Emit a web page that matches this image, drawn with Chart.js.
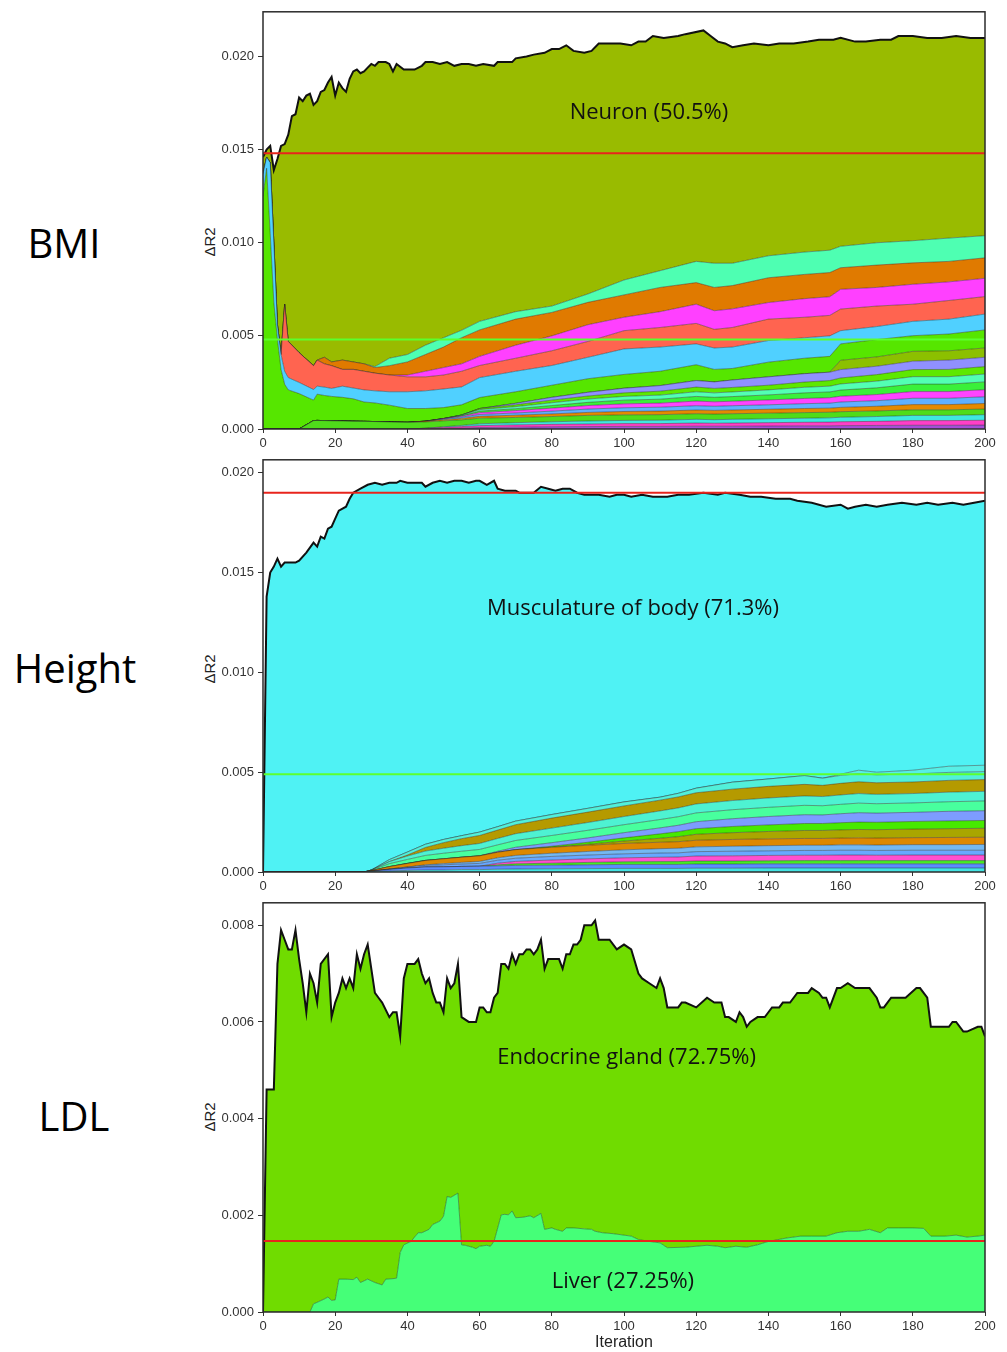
<!DOCTYPE html>
<html>
<head>
<meta charset="utf-8">
<script src="https://cdn.jsdelivr.net/npm/chart.js@4.4.1/dist/chart.umd.min.js"></script>
<style>
  html, body { margin: 0; padding: 0; background: #fff; }
  body { position: relative; width: 1007px; height: 1352px; overflow: hidden; }
  .trait { position: absolute; width: 150px; height: 40px; line-height: 40px; text-align: center;
           font-family: 'Open Sans', 'Noto Sans', sans-serif; font-size: 40px; color: #000; }
  .ytitle { position: absolute; left: 180px; width: 60px; height: 20px; line-height: 20px; text-align: center;
            font-family: 'Liberation Sans', Arial, sans-serif; font-size: 15px; color: #222;
            transform: rotate(-90deg); }
  canvas { position: absolute; left: 197px; }
</style>
</head>
<body>
<div class="trait" style="left:-11px; top:223px;">BMI</div>
<div class="trait" style="left:0px; top:648px;">Height</div>
<div class="trait" style="left:-1px; top:1096px;">LDL</div>
<div class="ytitle" style="top:232px;">ΔR2</div>
<div class="ytitle" style="top:659px;">ΔR2</div>
<div class="ytitle" style="top:1107px;">ΔR2</div>
<canvas id="bmi" width="810" height="448" style="top:0px;"></canvas>
<canvas id="height" width="810" height="443" style="top:448px;"></canvas>
<canvas id="ldl" width="810" height="461" style="top:891px;"></canvas>
<script>
// ---------------- BMI: per-tissue ΔR2 contributions (stacked, bottom to top) ----------------
const bmiGrid = [0,1,2,3,4,5,6,7,10,14,15,17,19,22,25,28,31,35,40,45,50,55,60,70,80,90,100,110,120,125,130,140,150,157,160,170,180,190,200];
const bmiPurple   = [0,0,0,0,0,0,0,0,0,0,0,0,0,0,0,0,0,0,0, 0,.00003,.00005,.00008,.0001,.00012,.00013,.00014,.00014,.00015,.00015,.00015,.00016,.00017,.00017,.00018,.00019,.0002,.0002,.00021];
const bmiPink     = [0,0,0,0,0,0,0,0,0,0,0,0,0,0,0,0,0,0,0, .00004,.00006,.00008,.0001,.00012,.00013,.00014,.00015,.00015,.00017,.00016,.00017,.00018,.00019,.0002,.00021,.00022,.00025,.00025,.00026];
const bmiTeal     = [0,0,0,0,0,0,0,0,0,0,0,0,0,0,0,0,0,0,0, 0,.00003,.00006,.0001,.00012,.00014,.00016,.00017,.00018,.0002,.00019,.0002,.00021,.00022,.00023,.00024,.00026,.00028,.00028,.0003];
const bmiDeepGreen= [0,0,0,0,0,0,0,0,0, .00045,.00046,.00045,.00044,.00043,.00042,.00041,.0004,.00038,.00036, .00034,.00032,.0003,.0003,.00028,.00028,.0003,.0003,.0003,.0003,.0003,.0003,.0003,.0003,.0003,.0003,.0003,.0003,.0003,.0003];
const bmiAmber    = [0,0,0,0,0,0,0,0,0,0,0,0,0,0,0,0,0,0,0, .00004,.00006,.00008,.0001,.00012,.00014,.00016,.00018,.00019,.0002,.0002,.0002,.00021,.00022,.00022,.00023,.00025,.00028,.00028,.0003];
const bmiSky      = [0,0,0,0,0,0,0,0,0,0,0,0,0,0,0,0,0,0,0, 0,.00004,.00007,.0001,.00012,.00015,.00018,.0002,.00021,.00023,.00022,.00023,.00024,.00026,.00027,.00029,.0003,.00034,.00034,.00036];
const bmiFuchsia  = [0,0,0,0,0,0,0,0,0,0,0,0,0,0,0,0,0,0,0, 0,.00002,.00005,.0001,.00013,.00016,.00019,.00021,.00022,.00025,.00024,.00024,.00026,.00028,.00029,.00031,.00033,.00036,.00036,.00038];
const bmiLime     = [0,0,0,0,0,0,0,0,0,0,0,0,0,0,0,0,0,0,0, 0,0,.00003,.00008,.0001,.00014,.00017,.0002,.00021,.00025,.00024,.00025,.00027,.0003,.00031,.00033,.00036,.0004,.0004,.00042];
const bmiMint     = [0,0,0,0,0,0,0,0,0,0,0,0,0,0,0,0,0,0,0, 0,0,.00003,.00008,.00011,.00015,.00018,.0002,.00022,.00025,.00024,.00025,.00027,.0003,.00031,.00033,.00036,.0004,.0004,.00042];
const bmiSpring   = [0,0,0,0,0,0,0,0,0,0,0,0,0,0,0,0,0,0,0, 0,0,0,.00006,.0001,.00014,.00016,.00019,.00021,.00025,.00024,.00024,.00025,.00028,.0003,.00032,.00035,.00038,.00039,.0004];
const bmiLavender = [0,0,0,0,0,0,0,0,0,0,0,0,0,0,0,0,0,0,0, 0,0,0,0,.00008,.00015,.0002,.00025,.0003,.00035,.00035,.0004,.00045,.00045,.00045,.00045,.00045,.00045,.0005,.0005];
const bmiOlive    = [0,0,0,0,0,0,0,0,0,0,0,0,0,0,0,0,0,0,0,0,0,0,0,0,0,0,0,0,0,0,0,0,0,0, .0005,.0005,.00053,.0005,.0005];
const bmiGreen    = [.0125,.014,.0105,.0068,.0048,.0032,.0024,.0021,.0019,.0011,.00141,.00135,.00131,.00127,.0012,.00104,.001,.0009,.00074,.00068,.00059,.00055,.00059,.00062,.00065,.00073,.00074,.00077,.00085,.00067,.00062,.00079,.00083,.00085,.00088,.00093,.00084,.0009,.00097];
const bmiBlue     = [.0012,.0006,.0038,.0032,.0008,.0008,.0007,.00066,.0006,.00057,.00043,.00045,.00043,.0006,.00058,.00065,.00065,.00072,.0009,.00095,.001,.00096,.00107,.0011,.00106,.00115,.00137,.0013,.00112,.00115,.00115,.00116,.0011,.0011,.00071,.0007,.00077,.0008,.00085];
const bmiSalmon   = [0,0,0,0,0,0,.0036,.00194,.0016,.00128,.0014,.00125,.00122,.0009,.001,.001,.00095,.0009,.0008,.00075,.00075,.00084,.00065,.0007,.00079,.00085,.00098,.00105,.0011,.001,.00105,.00115,.0011,.0011,.00116,.0011,.00092,.001,.00094];
const bmiMagenta  = [0,0,0,0,0,0,0,0,0,0,0,0,0,0,0,0,0,0, .0001,.0003,.0004,.0004,.00049,.0007,.0008,.0009,.00072,.00085,.00103,.001,.001,.00089,.001,.001,.00106,.001,.00107,.001,.00098];
const bmiOrange   = [0,0,0,0,0,0,0,0,0,0,0, .00035,.0002,.0005,.0004,.0004,.0003,.0005,.0007,.0009,.0011,.0014,.00142,.0014,.00126,.0012,.0012,.0013,.00116,.00125,.00125,.00133,.0013,.0013,.00116,.0012,.00115,.0011,.0011];
const bmiAqua     = [0,0,0,0,0,0,0,0,0,0,0,0,0,0,0,0, .00005,.0004,.0004,.0005,.0005,.0004,.00046,.0004,.00034,.00045,.0008,.0009,.00114,.0013,.0012,.00118,.0012,.0012,.00115,.0012,.00119,.00125,.00119];
// total ΔR2 (black outline); the band above the stack is Neuron
const bmiTotalIter  = [0,1,2,3,4,5,6,7,8,9,10,11,12,13,14,15,16,17,18,19,20,21,22,23,24,25,26,27,28,29,30,31,32,
  34,35,36,37,39,42,44,45,47,49,51,53,55,57,59,61,64,65,69,70,73,75,78,80,82,84,86,89,91,93,96,99,102,104,106,
  108,111,115,117,122,124,126,128,130,133,136,140,143,147,151,154,158,160,164,167,171,174,176,180,184,188,192,196,200];
const bmiTotalValue = [.0146,.015,.0152,.0139,.0145,.0152,.0153,.0158,.0168,.0169,.0178,.0176,.0179,.018,.0174,.0176,.0181,.0182,.0186,.0189,.0179,.0186,.0183,.0181,.0188,.0192,.0193,.0191,.0192,.0194,.0196,.0195,.0197,
  .0197,.0196,.0192,.0196,.0193,.0193,.0195,.0197,.0197,.0196,.0197,.0195,.0196,.0196,.0195,.0196,.0195,.0197,.0197,.0199,.02,.0201,.0202,.0204,.0204,.0206,.0203,.0202,.0203,.0207,.0207,.0207,.0206,.0208,.0208,
  .0211,.021,.0211,.0212,.0214,.0211,.0208,.0207,.0205,.0206,.0207,.0206,.0207,.0207,.0208,.0209,.0209,.021,.0208,.0208,.0209,.0209,.0211,.0211,.021,.021,.0211,.021,.021];
const bmiThresholds = [0.0148, 0.0048];

// ---------------- Height ----------------
const heightGrid = [0,28,30,35,40,45,50,55,60,65,70,80,90,100,110,115,120,130,140,150,155,160,165,170,180,190,200];
const hAqua      = [0,0,.00002,.00005,.00008,.0001,.0001,.00012,.00012,.00014,.00015,.00016,.00017,.00018,.00018,.00018,.00019,.00019,.0002,.0002,.0002,.0002,.0002,.0002,.0002,.0002,.0002];
const hBlue      = [0,0,.00002,.00008,.00012,.00015,.00016,.00016,.00017,.00017,.00018,.00018,.00019,.0002,.0002,.0002,.00021,.00021,.00021,.00021,.00021,.00021,.00021,.00021,.00021,.00021,.00021];
const hGreen     = [0,0,0,0,0,0,0,0,0,.00005,.00008,.0001,.00012,.00013,.00014,.00014,.00015,.00015,.00015,.00016,.00016,.00016,.00016,.00016,.00016,.00016,.00016];
const hMagenta   = [0,0,0,0,0,0,0,0,0,.00008,.00012,.00016,.00018,.0002,.00022,.00023,.00025,.00026,.00027,.00027,.00027,.00028,.00028,.00027,.00028,.00028,.00028];
const hSky       = [0,0,0,.00002,.00005,.00008,.0001,.00012,.00014,.00015,.00016,.00018,.00019,.0002,.00021,.00021,.00022,.00023,.00023,.00024,.00024,.00024,.00024,.00024,.00024,.00024,.00024];
const hSteel     = [0,0,0,0,0,.00003,.00006,.00008,.0001,.00012,.00014,.00016,.00018,.0002,.00022,.00023,.00024,.00025,.00026,.00026,.00026,.00027,.00027,.00027,.00028,.00028,.00029];
const hOrange    = [0,0,.00003,.00012,.00018,.00022,.00024,.00026,.00028,.00028,.00029,.0003,.00031,.00032,.00032,.00033,.00033,.00034,.00034,.00034,.00034,.00034,.00035,.00035,.00035,.00036,.00036];
const hOlive     = [0,0,0,0,0,0,0,0,0,0,0,0,.00005,.00012,.0002,.00025,.0003,.00034,.00037,.0004,.0004,.00041,.00042,.00042,.00043,.00044,.00045];
const hLime      = [0,0,0,0,0,0,0,0,0,0,0,.00005,.0001,.00016,.00022,.00025,.00028,.00031,.00033,.00035,.00035,.00036,.00037,.00037,.00038,.00039,.00039];
const hPeriwinkle= [0,0,0,0,0,0,0,0,0,.00005,.00012,.00018,.00022,.00026,.0003,.00032,.00035,.00039,.00042,.00044,.00043,.00045,.00047,.00046,.00046,.00048,.00049];
const hMint      = [0,0,.00003,.00015,.0002,.00025,.00028,.0003,.00032,.00032,.00034,.00036,.00038,.0004,.00042,.00043,.00044,.00045,.00046,.00047,.00046,.00047,.00048,.00047,.00047,.00048,.00049];
const hTurquoise = [0,0,0,.0001,.00017,.00022,.00025,.00028,.0003,.00032,.00034,.00037,.00039,.00041,.00043,.00044,.00045,.00046,.00047,.00047,.00046,.00047,.00048,.00047,.00047,.00048,.00048];
const hGold      = [0,0,0,0,.00005,.00018,.00028,.00035,.0004,.00042,.00045,.0005,.00052,.00053,.00054,.00055,.00056,.00057,.00058,.00058,.00056,.00058,.00059,.00058,.00058,.00059,.00059];
const hPaleAqua  = [0,0,0,.0001,.00015,.00016,.00016,.00015,.00017,.00017,.00018,.00018,.00019,.0002,.00015,.00018,.00023,.00035,.00037,.00044,.00036,.0004,.0004,.0004,.0004,.0004,.0004];
const hTopAqua   = [0,0,0,0,0,0,0,0,0,0,0,0,0,0,0,0,0,0,0,0,0,.00006,.00018,.00013,.00019,.00031,.00032];
const heightTotalIter  = [0,1,2,3,4,5,6,7,9,10,12,14,15,16,17,18,19,20,21,23,24,25,27,29,31,33,35,37,38,40,44,45,47,49,51,53,55,57,59,60,
  62,64,65,67,70,71,73,75,77,79,81,83,85,87,89,91,93,96,98,100,102,105,108,112,115,118,122,126,128,132,135,138,142,146,148,
  152,156,160,162,164,167,170,173,177,181,184,187,191,194,197,200];
const heightTotalValue = [0,.0138,.015,.0153,.0157,.0153,.0155,.0155,.0155,.0156,.016,.0165,.0163,.0168,.0167,.0172,.0173,.0177,.0181,.0183,
  .0187,.019,.0192,.0194,.0195,.0194,.0195,.0195,.0196,.0195,.0195,.0193,.0195,.0196,.0195,.0196,.0196,.0195,.0196,.0196,
  .0194,.0196,.0192,.0191,.0191,.019,.019,.019,.0193,.0192,.0191,.0192,.0192,.019,.0189,.0189,.0189,.0188,.0189,.0189,
  .0188,.0189,.0188,.0188,.0189,.0189,.019,.0189,.019,.0189,.0188,.0188,.0187,.0187,.0186,
  .0185,.0183,.0184,.0182,.0183,.0184,.0183,.0184,.0185,.0184,.0185,.0184,.0185,.0184,.0185,.0186];
const heightThresholds = [0.0190, 0.0049];

// ---------------- LDL ----------------
const ldlTotalIter = [0,1,3,4,5,6,7,8,9,10, 11,12,13,14,15,16,18,19,20,21, 22,23,24,25,26,27,28,29,31,32, 33,35,36,37,38,39,40,42,43,44,
  45,46,47,48,49,50,51,52,53,54, 55,57,59,60,61,62,63,64,65,66, 67,68,69,70,71,72,73,74,75,76, 77,78,79,81,82,83,84,85,86,87,
  88,89,91,92,93,96,98,100,102,104, 105,107,109,110,111,112,115,116,117,120, 123,125,127,128,129,131,132,133,134,135,
  137,139,140,141,143,144,146,148,151,152, 154,155,156,157,159,160,162,164,166,168, 170,171,172,174,176,178,181,182,184,185,
  188,190,191,192,194,195,198,199,200];
const ldlTotalValue = [0,.0046,.0046,.0072,.0079,.0077,.0075,.0075,.0079,.0073, .0068,.0062,.007,.0068,.0064,.0072,.0074,.0061,.0064,.0066,
  .0069,.0067,.0069,.0067,.0074,.0071,.0074,.0076,.0066,.0065, .0064,.0061,.0062,.0062,.0057,.0069,.0072,.0072,.0073,.007,
  .0068,.0069,.0066,.0064,.0064,.0062,.0069,.0067,.0068,.0072, .0061,.006,.006,.0063,.0063,.0062,.0062,.0065,.0066,.0072,
  .0072,.0071,.0074,.0072,.0074,.0074,.0075,.0075,.0074,.0075, .0077,.0071,.0073,.0073,.0073,.0071,.0074,.0074,.0076,.0076,
  .0077,.008,.008,.0081,.0077,.0077,.0075,.0076,.0075,.007, .0069,.0068,.0067,.0069,.0067,.0063,.0063,.0064,.0064,.0063,
  .0065,.0064,.0064,.0061,.0061,.006,.0062,.0061,.0059,.006, .0061,.0061,.0062,.0063,.0063,.0064,.0064,.0066,.0066,.0067,
  .0066,.0065,.0065,.0063,.0067,.0067,.0068,.0067,.0067,.0067, .0065,.0063,.0063,.0065,.0065,.0065,.0067,.0067,.0065,.0059,
  .0059,.0059,.006,.006,.0058,.0058,.0059,.0059,.0057];
const ldlLiverIter = [0,13,14,15,17,18,19,20,21,23, 25,26,27,29,31,33,34,36,37,38, 39,41,43,44,46,47,49,50,51,52, 54,55,56,58,59,60,62,63,64,66,
  67,68,69,70,72,74,75,77,78,80, 81,83,84,86,89,91,92,94,97,102, 104,107,110,112,117,123,126,128,131,134,
  137,140,145,149,152,156,159,162,165,168, 171,173,176,180,183,185,189,192,195,198, 200];
const ldlLiverValue = [0,0,.00017,.0002,.00027,.00031,.00024,.00025,.00068,.00068, .00067,.00072,.00061,.00068,.00061,.00056,.00068,.00069,.0007,.00123,
  .00139,.00146,.00164,.00164,.00171,.00181,.00188,.00198,.00239,.00237, .00246,.00139,.00138,.00134,.00131,.00136,.00138,.00136,.00146,.00201,
  .00202,.00201,.00209,.00195,.00196,.00199,.00195,.00204,.00171,.00174, .00171,.00167,.00174,.00174,.00172,.00171,.00167,.00164,.00162,.00157,
  .0015,.00146,.00143,.00133,.00134,.00138,.00136,.00133,.00136,.00134, .00139,.00146,.00153,.00157,.00157,.00157,.00164,.00167,.00167,.00171,
  .00164,.00174,.00174,.00174,.00173,.00157,.00157,.00159,.00155,.00157, .00159];
const ldlThreshold = 0.00147;

// ---------------- drawing ----------------
const TICK_FONT = "'Liberation Sans', Arial, Helvetica, sans-serif";
const NOTE_FONT = "22px 'Open Sans', 'Noto Sans', sans-serif";
const EDGE = 'rgba(35,35,35,0.55)';
const RED = '#e8241c', LIGHT_GREEN = '#5cff2e';

const pts = (xs, ys) => xs.map((x, i) => ({ x, y: ys[i] }));

function bands(grid, layers) {
  return layers.map(([name, values, color], i) => ({
    label: name, data: pts(grid, values), stack: 'tissues', order: 1,
    backgroundColor: color, borderColor: EDGE, borderWidth: 0.8,
    fill: i === 0 ? 'origin' : '-1', pointRadius: 0, tension: 0
  }));
}
function outline(name, xs, ys, color) {
  return { label: name, data: pts(xs, ys), stack: 'total', order: 1,
    backgroundColor: color, borderColor: '#111', borderWidth: 2, fill: '-1', pointRadius: 0, tension: 0 };
}
function level(value, color, key) {
  return { label: key, data: [{ x: 0, y: value }, { x: 200, y: value }], stack: key, order: 0,
    borderColor: color, borderWidth: 2, fill: false, pointRadius: 0 };
}

const framePlugin = { id: 'frame', afterDraw(chart) {
  const { ctx, chartArea: a } = chart;
  ctx.save(); ctx.strokeStyle = '#2b2b2b'; ctx.lineWidth = 1.5;
  ctx.strokeRect(a.left, a.top, a.right - a.left, a.bottom - a.top); ctx.restore();
} };
function notesPlugin(notes) {
  return { id: 'notes', afterDatasetsDraw(chart) {
    const { ctx, scales: { x, y } } = chart;
    ctx.save(); ctx.font = NOTE_FONT; ctx.fillStyle = '#111'; ctx.textAlign = 'center'; ctx.textBaseline = 'alphabetic';
    notes.forEach(([text, ix, vy]) => ctx.fillText(text, x.getPixelForValue(ix), y.getPixelForValue(vy)));
    ctx.restore();
  } };
}

function options(yMax, yStep, stacked, padTop, xHeight, showTitle) {
  return {
    responsive: false, animation: false, events: [],
    layout: { padding: { top: padTop, right: 22, left: 0, bottom: 0 } },
    plugins: { legend: { display: false }, tooltip: { enabled: false } },
    scales: {
      x: { type: 'linear', min: 0, max: 200,
        ticks: { stepSize: 20, autoSkip: false, maxRotation: 0, color: '#333', padding: 3, font: { family: TICK_FONT, size: 13 } },
        grid: { display: true, drawOnChartArea: false, drawTicks: true, tickLength: 4, color: '#333' },
        border: { display: false },
        title: { display: showTitle, text: 'Iteration', color: '#222', padding: { top: 0, bottom: 0 }, font: { family: TICK_FONT, size: 16 } },
        afterFit(s) { s.height = xHeight; } },
      y: { type: 'linear', min: 0, max: yMax, stacked,
        ticks: { stepSize: yStep, includeBounds: false, color: '#333', padding: 4, font: { family: TICK_FONT, size: 13 },
                 callback: v => Number(v).toFixed(3) },
        grid: { display: true, drawOnChartArea: false, drawTicks: true, tickLength: 5, color: '#333' },
        border: { display: false },
        afterFit(s) { s.width = 66; } }
    }
  };
}

// BMI panel
new Chart(document.getElementById('bmi'), {
  type: 'line',
  data: { datasets: [
    ...bands(bmiGrid, [
      ['Tissue 1', bmiPurple, '#a44fd8'], ['Tissue 2', bmiPink, '#ff3fc8'], ['Tissue 3', bmiTeal, '#3fe8e0'],
      ['Tissue 4', bmiDeepGreen, '#4fdc1a'], ['Tissue 5', bmiAmber, '#e58a00'], ['Tissue 6', bmiSky, '#5fb0ff'],
      ['Tissue 7', bmiFuchsia, '#ff44ff'], ['Tissue 8', bmiLime, '#3af03a'], ['Tissue 9', bmiMint, '#52ffb4'],
      ['Tissue 10', bmiSpring, '#5ee800'], ['Tissue 11', bmiLavender, '#9090ff'], ['Tissue 12', bmiOlive, '#8cc000'],
      ['Tissue 13', bmiGreen, '#56e600'], ['Tissue 14', bmiBlue, '#50d0ff'], ['Tissue 15', bmiSalmon, '#ff6450'],
      ['Tissue 16', bmiMagenta, '#ff40ff'], ['Tissue 17', bmiOrange, '#e07a00'], ['Tissue 18', bmiAqua, '#4effb2']
    ]),
    outline('Neuron', bmiTotalIter, bmiTotalValue, '#99bb00'),
    level(bmiThresholds[0], RED, 'ref-high'),
    level(bmiThresholds[1], LIGHT_GREEN, 'ref-low')
  ] },
  options: options(0.0224, 0.005, true, 9, 19, false),
  plugins: [framePlugin, notesPlugin([['Neuron (50.5%)', 106.9, 0.01664]])]
});

// Height panel
new Chart(document.getElementById('height'), {
  type: 'line',
  data: { datasets: [
    ...bands(heightGrid, [
      ['Tissue 1', hAqua, '#43e3e3'], ['Tissue 2', hBlue, '#5b8cff'], ['Tissue 3', hGreen, '#45ee22'],
      ['Tissue 4', hMagenta, '#ff4fcf'], ['Tissue 5', hSky, '#68a8ff'], ['Tissue 6', hSteel, '#74b8f2'],
      ['Tissue 7', hOrange, '#dd8800'], ['Tissue 8', hOlive, '#a9a600'], ['Tissue 9', hLime, '#47ea00'],
      ['Tissue 10', hPeriwinkle, '#7d9cff'], ['Tissue 11', hMint, '#48ff9e'], ['Tissue 12', hTurquoise, '#4ef2d2'],
      ['Tissue 13', hGold, '#b59a00'], ['Tissue 14', hPaleAqua, '#52f0da'], ['Tissue 15', hTopAqua, '#58efe6']
    ]),
    outline('Musculature of body', heightTotalIter, heightTotalValue, '#4ff2f4'),
    level(heightThresholds[0], RED, 'ref-high'),
    level(heightThresholds[1], LIGHT_GREEN, 'ref-low')
  ] },
  options: options(0.02065, 0.005, true, 1, 19, false),
  plugins: [framePlugin, notesPlugin([['Musculature of body (71.3%)', 102.5, 0.01285]])]
});

// LDL panel
new Chart(document.getElementById('ldl'), {
  type: 'line',
  data: { datasets: [
    { label: 'Liver', data: pts(ldlLiverIter, ldlLiverValue), order: 1, backgroundColor: '#45ff78',
      borderColor: 'rgba(40,110,40,0.7)', borderWidth: 0.9, fill: 'origin', pointRadius: 0, tension: 0 },
    { label: 'Endocrine gland', data: pts(ldlTotalIter, ldlTotalValue), order: 1, backgroundColor: '#70dc00',
      borderColor: '#111', borderWidth: 2, fill: '-1', pointRadius: 0, tension: 0 },
    level(ldlThreshold, RED, 'ref-high')
  ] },
  options: options(0.008464, 0.002, false, 7, 40, true),
  plugins: [framePlugin, notesPlugin([['Endocrine gland (72.75%)', 100.7, 0.00513], ['Liver (27.25%)', 99.7, 0.000505]])]
});
</script>
</body>
</html>
